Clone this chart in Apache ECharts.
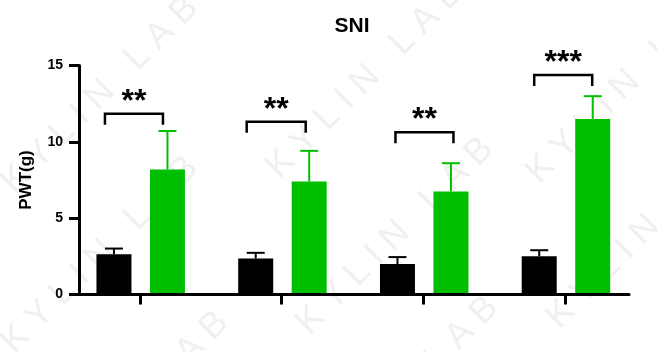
<!DOCTYPE html>
<html>
<head>
<meta charset="utf-8">
<script src="https://cdn.jsdelivr.net/npm/echarts@6/dist/echarts.min.js"></script>
<style>
  html, body { margin: 0; padding: 0; background: #fff; }
  #chart { width: 657px; height: 352px; }
</style>
</head>
<body>
<div id="chart"></div>
<script>
// values (mean, SD)
let groups = [0, 1, 2, 3];
let blackMean = [2.64, 2.36, 1.99, 2.51];
let blackSd = [0.37, 0.37, 0.46, 0.39];
let greenMean = [8.19, 7.40, 6.75, 11.49];
let greenSd = [2.52, 2.01, 1.85, 1.50];
let bracketY = [11.84, 11.32, 10.62, 14.38];
let stars = ['**', '**', '**', '***'];
let yTicks = [0, 5, 10, 15];

const FONT = '"Liberation Sans", Arial, sans-serif';
const GREEN = '#00bf00';
// bracket ends relative to group centre, px
const bracketSpan = [[-35, 23], [-35, 24], [-28, 30], [-31, 27]];

function barSeries(name, means, sds, color, offset) {
    return {
        name: name,
        type: 'custom',
        data: means.map((m, i) => [groups[i], m, sds[i]]),
        renderItem: function (params, api) {
            let top = api.coord([api.value(0), api.value(1)]);
            let base = api.coord([api.value(0), 0]);
            let err = api.coord([api.value(0), api.value(1) + api.value(2)]);
            let cx = top[0] + offset;
            return {
                type: 'group',
                children: [
                    { type: 'rect', shape: { x: cx - 17.5, y: top[1], width: 35, height: base[1] - top[1] }, style: { fill: color } },
                    { type: 'line', shape: { x1: cx, y1: top[1], x2: cx, y2: err[1] }, style: { stroke: color, lineWidth: 2 } },
                    { type: 'line', shape: { x1: cx - 9, y1: err[1], x2: cx + 9, y2: err[1] }, style: { stroke: color, lineWidth: 2 } }
                ]
            };
        }
    };
}

// faint "KYLIN LAB" watermark tiles
let wmCenters = [[100, 95], [365, 80], [625, 85], [100, 255], [395, 236], [645, 230], [130, 410], [400, 395]];
let watermark = wmCenters.map(c => ({
    type: 'text',
    x: c[0], y: c[1],
    rotation: Math.PI / 4,
    z: -10,
    style: {
        text: 'K Y L I N   L A B',
        font: '36px ' + FONT,
        fill: '#f0f0f0',
        align: 'center',
        verticalAlign: 'middle'
    }
}));

let option = {
    animation: false,
    graphic: watermark.concat([{
        type: 'text',
        x: 352, y: 26,
        style: { text: 'SNI', font: 'bold 21px ' + FONT, fill: '#000', align: 'center', verticalAlign: 'middle' }
    }]),
    grid: { left: 79, right: 28, top: 65.5, bottom: 57.5 },
    xAxis: {
        type: 'value',
        min: -0.43,
        max: 3.45,
        z: 5,
        axisLine: { show: true, onZero: false, lineStyle: { color: '#000', width: 3 } },
        axisTick: { show: true, customValues: groups, length: 10, lineStyle: { color: '#000', width: 3 } },
        axisLabel: { show: false },
        splitLine: { show: false }
    },
    yAxis: {
        type: 'value',
        min: yTicks[0],
        max: yTicks[yTicks.length - 1],
        interval: yTicks[1] - yTicks[0],
        z: 5,
        name: 'PWT(g)',
        nameLocation: 'middle',
        nameGap: 44,
        nameTextStyle: { color: '#000', fontWeight: 'bold', fontSize: 17, fontFamily: FONT },
        axisLine: { show: true, onZero: false, lineStyle: { color: '#000', width: 3 } },
        axisTick: { show: true, length: 10, lineStyle: { color: '#000', width: 3 } },
        axisLabel: { color: '#000', fontWeight: 'bold', fontSize: 14, fontFamily: FONT, margin: 16 },
        splitLine: { show: false }
    },
    series: [
        barSeries('Black', blackMean, blackSd, '#000', -26),
        barSeries('Green', greenMean, greenSd, GREEN, 27.5),
        {
            type: 'custom',
            data: bracketY.map((v, i) => [groups[i], v]),
            renderItem: function (params, api) {
                let i = params.dataIndex;
                let p = api.coord([api.value(0), api.value(1)]);
                let x1 = p[0] + bracketSpan[i][0];
                let x2 = p[0] + bracketSpan[i][1];
                return {
                    type: 'group',
                    children: [
                        {
                            type: 'polyline',
                            shape: { points: [[x1, p[1] + 11], [x1, p[1]], [x2, p[1]], [x2, p[1] + 11]] },
                            style: { stroke: '#000', lineWidth: 2.5, fill: null }
                        },
                        {
                            type: 'text',
                            style: { text: stars[i], x: (x1 + x2) / 2, y: p[1] - 12, align: 'center', verticalAlign: 'middle', font: 'bold 32px ' + FONT, fill: '#000' }
                        }
                    ]
                };
            }
        }
    ]
};

let chart = echarts.init(document.getElementById('chart'));
chart.setOption(option);
</script>
</body>
</html>
